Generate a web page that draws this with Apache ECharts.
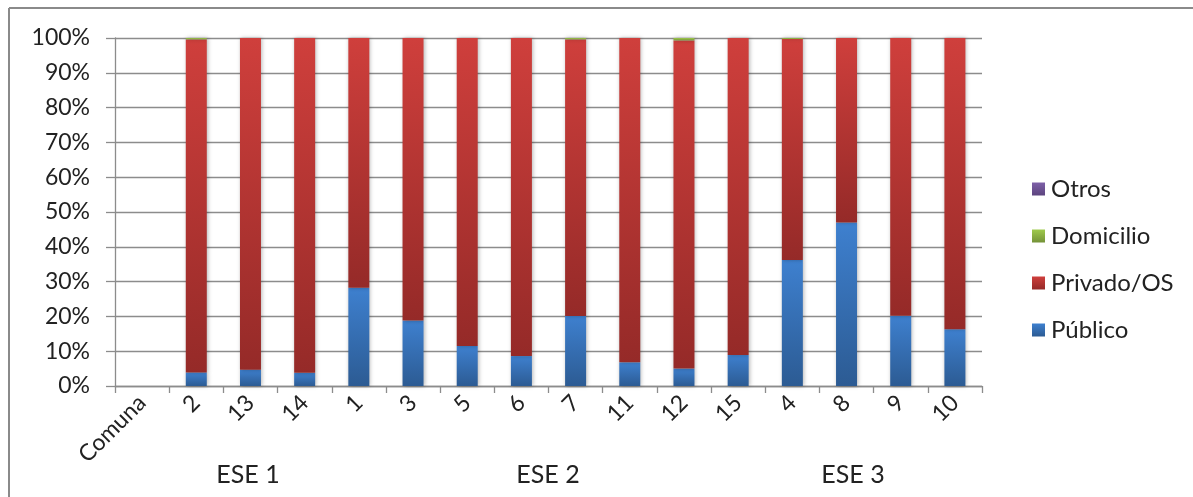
<!DOCTYPE html>
<html>
<head>
<meta charset="utf-8">
<script src="https://cdn.jsdelivr.net/npm/echarts@6/dist/echarts.min.js"></script>
<style>
  html, body { margin: 0; padding: 0; background: #fff; }
  #chart { width: 1193px; height: 497px; }
</style>
</head>
<body>
<div id="chart"></div>
<script>
// Comunas grouped by ESE; the first slot is the axis caption column
const categories = ['Comuna', '2', '13', '14', '1', '3', '5', '6', '7', '11', '12', '15', '4', '8', '9', '10'];
const groupLabels = ['ESE 1', 'ESE 2', 'ESE 3'];
const yTicks = [0, 10, 20, 30, 40, 50, 60, 70, 80, 90, 100];

// Share of each place type (%)
const publico   = [null, 3.9, 4.7, 3.8, 28.2, 18.8, 11.5, 8.6, 20.1, 6.8, 5.0, 8.9, 36.2, 47.0, 20.2, 16.3];
const privado   = [null, 95.7, 95.3, 96.2, 71.8, 81.2, 88.5, 91.4, 79.5, 93.2, 94.3, 91.1, 63.5, 53.0, 79.8, 83.7];
const domicilio = [null, 0.4, 0, 0, 0, 0, 0, 0, 0.4, 0, 0.7, 0, 0.3, 0, 0, 0];
const otros     = [null, 0, 0, 0, 0, 0, 0, 0, 0, 0, 0, 0, 0, 0, 0, 0];

const FONT = 'Lato';
const chart = echarts.init(document.getElementById('chart'));

function grad(top, bottom) {
  return new echarts.graphic.LinearGradient(0, 0, 0, 1, [
    { offset: 0, color: top },
    { offset: 1, color: bottom }
  ]);
}

function barSeries(name, data, top, bottom) {
  return {
    name: name,
    type: 'bar',
    stack: 'total',
    data: data,
    barWidth: 21,
    itemStyle: {
      color: grad(top, bottom),
      shadowColor: 'rgba(0,0,0,0.28)',
      shadowBlur: 4,
      shadowOffsetX: 1,
      shadowOffsetY: 0
    },
    emphasis: { disabled: true }
  };
}

const gridLeft = 115, gridRight = 211, gridTop = 38, gridBottom = 111;

chart.setOption({
  animation: false,
  backgroundColor: '#ffffff',
  textStyle: { fontFamily: FONT },
  grid: { left: gridLeft, right: gridRight, top: gridTop, bottom: gridBottom, containLabel: false },
  legend: {
    orient: 'vertical',
    left: 1027,
    top: 170,
    itemWidth: 13,
    itemHeight: 13,
    itemGap: 19,
    icon: 'rect',
    data: ['Otros', 'Domicilio', 'Privado/OS', 'Público'],
    textStyle: { fontFamily: FONT, fontSize: 24, color: '#222', lineHeight: 28, padding: [0, 0, 0, 1] }
  },
  xAxis: {
    type: 'category',
    data: categories,
    boundaryGap: true,
    axisLine: { lineStyle: { color: '#8c8c8c', width: 1.3 } },
    axisTick: { show: true, interval: 0, length: 7, lineStyle: { color: '#8c8c8c', width: 1.3 } },
    axisLabel: {
      interval: 0,
      rotate: 45,
      margin: 13,
      fontFamily: FONT,
      fontSize: 23,
      color: '#222'
    }
  },
  yAxis: {
    type: 'value',
    min: yTicks[0],
    max: yTicks[yTicks.length - 1],
    interval: yTicks[1] - yTicks[0],
    axisLine: { show: true, lineStyle: { color: '#8c8c8c', width: 1.3 } },
    axisTick: { show: true, length: 9, lineStyle: { color: '#8c8c8c', width: 1.3 } },
    splitLine: { show: true, lineStyle: { color: '#8c8c8c', width: 1.3 } },
    axisLabel: {
      formatter: '{value}%',
      margin: 25,
      fontFamily: FONT,
      fontSize: 23,
      color: '#222'
    }
  },
  series: [
    barSeries('Público', publico, '#3e80cf', '#2c5b93'),
    barSeries('Privado/OS', privado, '#cf3f3c', '#952a28'),
    barSeries('Domicilio', domicilio, '#9fca4c', '#749238'),
    barSeries('Otros', otros, '#7e60a8', '#5c447e')
  ],
  graphic: [
    // chart frame
    { type: 'line', shape: { x1: 9, y1: 8, x2: 1193, y2: 8 }, style: { stroke: '#8a8a8a', lineWidth: 2 }, silent: true },
    { type: 'line', shape: { x1: 9, y1: 8, x2: 9, y2: 497 }, style: { stroke: '#8a8a8a', lineWidth: 2 }, silent: true },
    // ESE group captions under the comunas
    { type: 'text', x: 248, y: 475, style: { text: groupLabels[0], font: '25px ' + FONT, fill: '#222', textAlign: 'center', textVerticalAlign: 'middle' } },
    { type: 'text', x: 548, y: 475, style: { text: groupLabels[1], font: '25px ' + FONT, fill: '#222', textAlign: 'center', textVerticalAlign: 'middle' } },
    { type: 'text', x: 853, y: 475, style: { text: groupLabels[2], font: '25px ' + FONT, fill: '#222', textAlign: 'center', textVerticalAlign: 'middle' } }
  ]
});
</script>
</body>
</html>
